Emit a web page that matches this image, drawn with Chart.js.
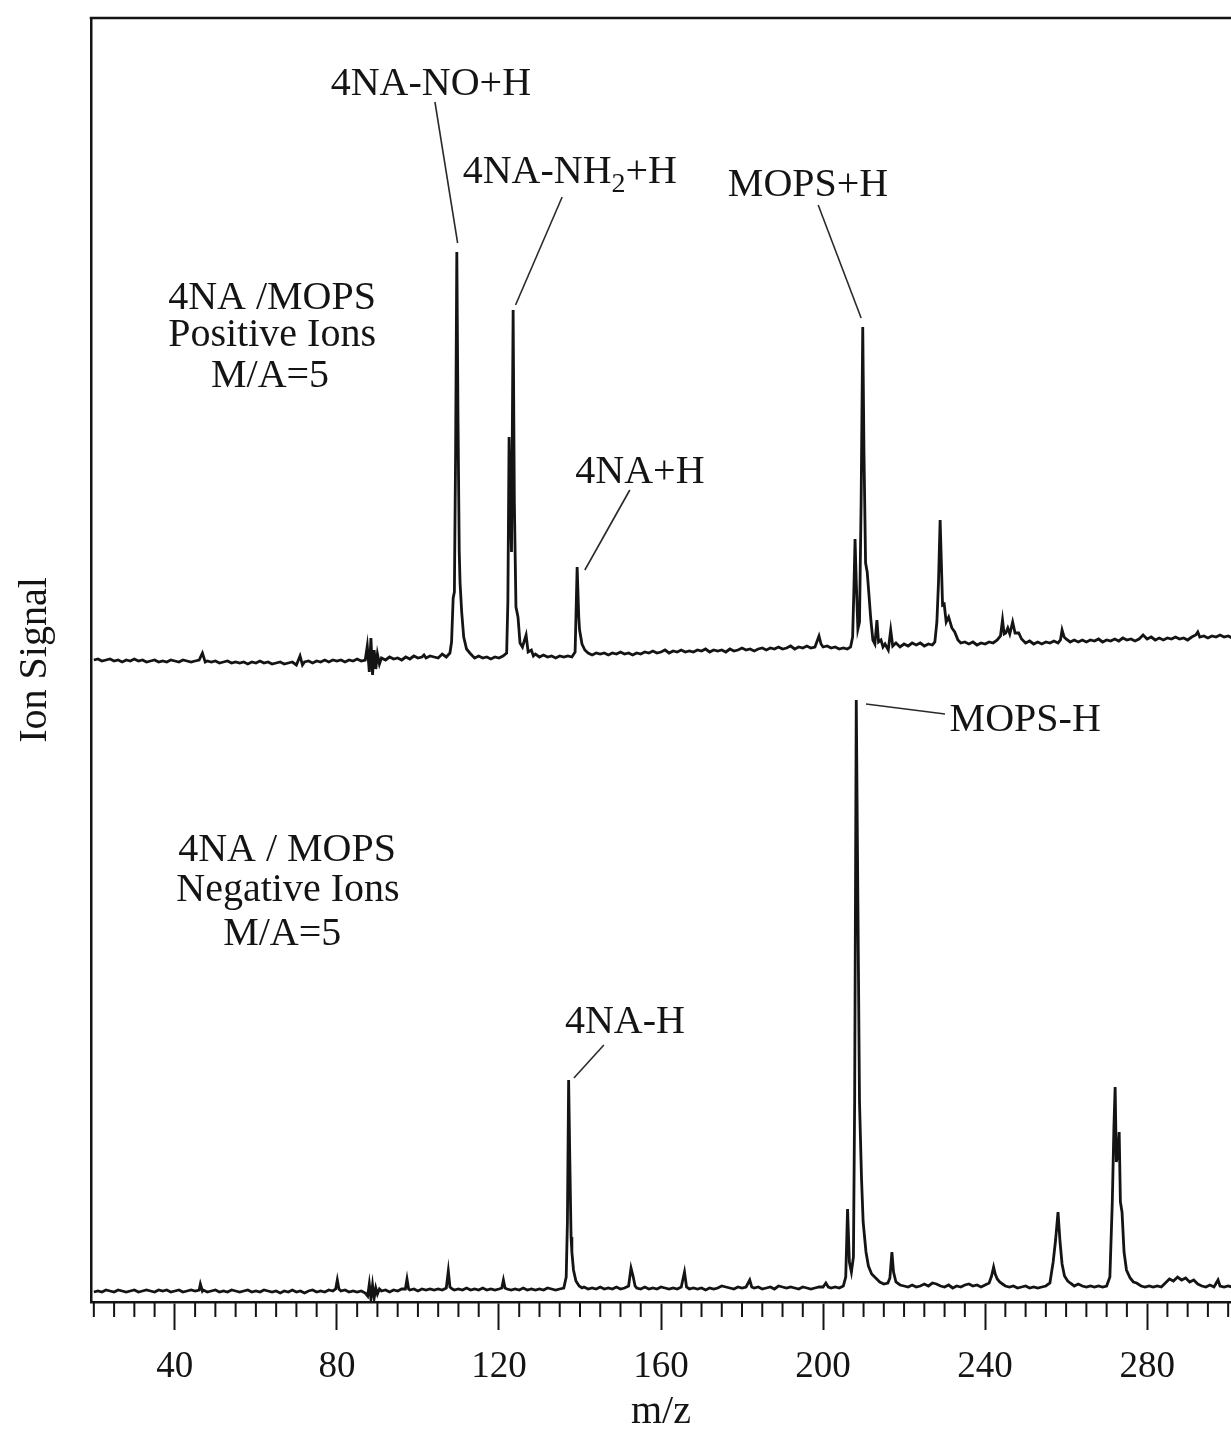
<!DOCTYPE html>
<html>
<head>
<meta charset="utf-8">
<script src="https://cdn.jsdelivr.net/npm/chart.js@4.4.1/dist/chart.umd.min.js"></script>
<style>
  html, body { margin: 0; padding: 0; background: #fff; overflow: hidden; }
  #wrap { width: 1231px; height: 1432px; position: relative; }
</style>
</head>
<body>
<div id="wrap"><canvas id="spectrum"></canvas></div>
<script>
// ---- data (m/z, ion signal in arbitrary units) ----

// positive ions trace (offset upward)
const POS_MZ = [
  20,21,22,23,24,25,26,27,28,29,
  30,31,32,33,34,35,36,37,38,39,
  40,41,42,43,44,45,46,46.8,47.5,48,
  49,50,51,52,53,54,55,56,57,58,
  59,60,61,62,63,64,65,66,67,68,
  69,70,70.9,71.5,72,73,74,75,76,77,
  78,79,80,81,82,83,84,85,86,87,
  87.5,88,88.4,88.8,89.2,89.6,90,90.5,91,92,
  93,94,95,96,97,98,99,100,101,101.5,
  102,103,104,105,106,107,107.9,108.3,108.7,109.0,
  109.3,109.6,109.9,110.2,110.4,110.8,111.3,112,112.8,113.5,
  114,115,116,117,118,119,120,121,121.9,122.2,
  122.5,122.8,123.1,123.5,123.8,124.2,124.7,125.2,125.8,126.7,
  127.2,128,128.5,129,130,131,132,133,134,135,
  136,137,138,138.8,139.3,139.7,139.9,140.5,141.2,142,
  143,144,145,146,147,148,149,150,151,152,
  153,154,155,156,157,158,159,160,161,162,
  163,164,165,166,167,168,169,170,171,172,
  173,174,175,176,177,178,179,180,181,182,
  183,184,185,186,187,188,189,190,191,192,
  193,194,195,196,197,198,199,199.5,200,201,
  202,203,204,205,206,206.8,207.3,207.6,207.9,208.2,
  208.6,209.0,209.4,209.8,210.1,210.5,210.9,211.3,211.8,212.3,
  212.8,213.3,213.7,214.3,214.8,215.3,216.1,216.7,217.2,218,
  219,220,221,222,223,224,225,226,227,227.6,
  228.1,228.5,228.9,229.2,229.5,229.9,230.4,231.0,231.8,232.5,
  233.3,234,235,236,237,238,239,240,241,242,
  243,243.8,244.3,244.7,245.1,245.6,246.1,246.8,247.4,248.3,
  249,250,251,252,253,254,255,256,257,258,
  258.6,259.0,259.5,260,261,262,263,264,265,266,
  267,268,269,270,271,272,273,274,275,276,
  277,278,279,280,281,282,283,284,285,286,
  287,288,289,290,291,292,292.5,293,294,295,
  296,297,298,299,300,301
];
const POS_SIG = [
  64.2,64.3,64.1,64.2,64.3,64.1,64.2,64.0,64.2,64.1,
  64.3,64.1,64.2,64.0,64.1,64.2,64.0,64.1,64.0,64.2,
  64.1,64.0,64.2,64.1,64.0,64.1,64.2,64.9,64.0,64.1,
  64.0,64.1,63.9,64.0,64.1,63.9,64.0,63.9,64.0,63.8,
  64.0,63.9,64.1,63.9,64.0,63.8,63.9,64.0,63.8,63.9,
  64.0,63.7,64.6,63.7,64.0,64.1,63.9,64.1,64.0,64.2,
  64.0,64.2,64.1,64.2,64.0,64.2,64.1,64.3,64.1,64.2,
  65.6,63.0,66.4,62.7,65.2,63.3,64.8,63.8,64.4,64.2,
  64.5,64.3,64.4,64.2,64.5,64.3,64.6,64.4,64.5,64.7,
  64.4,64.6,64.5,64.4,64.8,64.5,64.9,66.0,70.4,71.0,
  85.0,105.0,88.0,75.0,71.9,69.0,66.5,65.3,64.9,64.6,
  64.4,64.6,64.4,64.5,64.3,64.5,64.4,64.6,64.9,70.0,
  86.5,80.0,75.0,99.2,80.0,69.5,68.5,65.9,65.5,66.7,
  65.0,65.2,64.6,64.8,64.5,64.7,64.5,64.6,64.4,64.6,
  64.5,64.6,64.5,65.0,73.5,68.5,67.2,65.8,65.2,64.9,
  64.7,64.9,64.8,64.9,64.7,64.9,64.8,65.0,64.8,64.9,
  64.7,64.9,64.8,65.0,64.9,65.1,64.9,65.0,65.2,64.9,
  65.1,65.0,65.2,65.0,65.1,65.0,65.2,65.1,65.3,65.0,
  65.2,65.1,65.2,65.0,65.3,65.1,65.2,65.4,65.2,65.3,
  65.1,65.3,65.4,65.2,65.4,65.3,65.5,65.3,65.4,65.6,
  65.3,65.5,65.4,65.6,65.4,65.5,66.6,65.8,65.5,65.6,
  65.4,65.5,65.3,65.4,65.3,65.5,66.5,71.0,76.3,72.0,
  67.3,68.0,80.0,97.5,85.0,73.9,73.0,70.9,68.2,66.2,
  65.8,68.2,66.0,66.2,65.5,65.8,65.2,67.2,65.6,65.9,
  65.5,65.8,65.6,65.9,65.7,65.9,65.6,65.8,65.7,66.0,
  68.0,72.0,78.2,74.0,69.7,69.8,68.0,68.5,67.4,67.0,
  66.2,65.9,66.0,65.8,66.0,65.7,65.9,65.8,66.0,65.9,
  66.2,66.6,68.2,66.8,66.9,67.4,66.8,68.0,66.9,66.9,
  66.3,65.9,66.1,65.8,66.0,65.8,66.0,65.9,66.1,65.9,
  66.2,67.2,66.5,66.3,66.0,66.2,66.0,66.2,66.0,66.2,
  66.1,66.3,66.0,66.2,66.1,66.3,66.1,66.4,66.2,66.3,
  66.1,66.3,66.7,66.3,66.5,66.2,66.4,66.2,66.4,66.3,
  66.5,66.3,66.4,66.2,66.5,66.7,67.0,66.5,66.6,66.4,
  66.6,66.5,66.7,66.5,66.6,66.4
];

// negative ions trace
const NEG_MZ = [
  20,21,22,23,24,25,26,27,28,29,
  30,31,32,33,34,35,36,37,38,39,
  40,41,42,43,44,45,46,46.3,46.8,47,
  48,49,50,51,52,53,54,55,56,57,
  58,59,60,61,62,63,64,65,66,67,
  68,69,70,71,72,73,74,75,76,77,
  78,79,79.7,80.1,80.5,81,82,83,84,85,
  86,87,87.6,88,88.4,88.8,89.2,89.6,90,90.5,
  91,92,93,94,95,96,96.9,97.3,97.7,98,
  99,100,101,102,103,104,105,106,107,107.5,
  107.9,108.5,109,110,111,112,113,114,115,116,
  117,118,119,120,120.7,121.1,121.5,122,123,124,
  125,126,127,128,129,130,131,132,133,134,
  135,136,136.6,136.9,137.2,137.5,137.8,138.0,138.4,139,
  139.8,140.5,141,142,143,144,145,146,147,148,
  149,150,151,152,152.6,153.1,153.6,154,155,156,
  157,158,159,160,161,162,163,164,165,165.8,
  166.3,167,168,169,170,171,172,173,174,175,
  176,177,178,179,180,181,181.9,182.4,183,184,
  185,186,187,188,189,190,191,192,193,194,
  195,196,197,198,199,200,200.7,201.3,202,203,
  204,205,205.6,206.05,206.5,207.0,207.5,207.8,208.2,208.6,
  209.0,209.5,209.9,210.2,210.6,211.2,212,213,214,215,
  216,216.5,217.0,217.4,218,219,220,221,222,223,
  224,225,226,227,228,229,230,231,232,233,
  234,235,236,237,238,239,240,241,241.6,242.1,
  242.5,243,243.6,244.3,245,246,247,248,249,250,
  251,252,253,254,255,256,256.8,257.4,258.0,258.5,
  259.0,259.6,260.4,261,262,263,264,265,266,267,
  268,269,270,270.8,271.4,271.8,272.1,272.4,272.8,273.1,
  273.4,273.8,274.3,274.9,275.8,276.6,277.4,278.5,279.5,280.5,
  281.5,282.5,283.5,284.5,285.5,286.5,287.5,288.5,289.5,290.5,
  291.5,292.5,293.5,294.5,295.5,296.5,297.5,298,299,300,
  301
];
const NEG_SIG = [
  1.0,1.1,1.0,1.2,1.1,1.0,1.2,1.1,1.0,1.1,
  1.2,1.0,1.1,1.2,1.1,1.0,1.2,1.1,1.2,1.0,
  1.1,1.2,1.0,1.1,1.2,1.1,1.2,1.8,1.1,1.2,
  1.0,1.1,1.2,1.0,1.1,1.0,1.2,1.1,1.0,1.1,
  1.2,1.0,1.1,1.0,1.2,1.1,1.0,1.1,0.9,1.1,
  1.0,1.2,1.0,1.1,0.9,1.1,1.2,1.0,1.1,1.0,
  1.2,1.1,1.3,2.2,1.3,1.1,1.2,1.0,1.1,1.0,
  1.1,0.9,0.6,1.8,0.3,1.7,0.4,1.4,0.8,1.3,
  1.1,1.2,1.0,1.2,1.1,1.3,1.3,2.3,1.3,1.2,
  1.3,1.1,1.3,1.2,1.3,1.2,1.3,1.2,1.4,3.1,
  1.5,1.3,1.2,1.3,1.2,1.4,1.2,1.3,1.2,1.4,
  1.2,1.3,1.2,1.3,1.4,2.2,1.4,1.3,1.2,1.3,
  1.2,1.4,1.2,1.3,1.2,1.3,1.2,1.4,1.3,1.2,
  1.3,1.4,2.5,8.0,22.2,14.0,6.5,5.0,3.2,2.1,
  1.6,1.4,1.5,1.3,1.4,1.3,1.5,1.3,1.4,1.3,
  1.5,1.3,1.4,1.6,3.4,2.6,1.6,1.4,1.3,1.5,
  1.3,1.4,1.3,1.5,1.4,1.3,1.4,1.3,1.5,3.0,
  1.5,1.3,1.4,1.3,1.4,1.2,1.4,1.3,1.4,1.6,
  1.5,1.4,1.3,1.5,1.4,1.5,2.2,1.5,1.4,1.5,
  1.3,1.4,1.5,1.3,1.6,1.5,1.4,1.5,1.4,1.3,
  1.5,1.4,1.3,1.4,1.5,1.5,1.9,1.5,1.4,1.5,
  1.4,1.6,2.5,9.3,4.0,3.0,4.5,20.0,60.2,40.0,
  20.0,12.3,8.0,6.7,5.0,3.6,2.8,2.4,2.0,1.8,
  1.9,2.4,5.0,3.0,2.0,1.7,1.6,1.5,1.7,1.5,
  1.6,1.8,1.6,1.9,1.8,1.6,1.5,1.7,1.4,1.6,
  1.5,1.7,1.8,1.6,1.7,1.5,1.7,1.9,2.6,3.5,
  2.8,2.3,2.0,1.8,1.6,1.5,1.6,1.4,1.5,1.6,
  1.4,1.5,1.4,1.5,1.6,1.9,4.0,6.2,9.0,6.0,
  3.8,2.6,2.1,1.9,1.6,1.8,1.6,1.5,1.6,1.5,
  1.6,1.5,1.6,2.5,10.0,17.5,21.5,14.0,15.0,17.0,
  10.0,9.0,5.0,3.2,2.4,2.0,1.9,1.6,1.5,1.6,
  1.5,1.6,1.5,1.9,2.3,2.1,2.5,2.2,2.4,2.0,
  2.2,1.8,1.6,1.5,1.7,1.5,2.2,1.6,1.5,1.6,
  1.5
];

const X_LABELS = [40, 80, 120, 160, 200, 240, 280];

// ---- look ----
const SERIF = '"Liberation Serif", "DejaVu Serif", serif';
const INK = '#141414';

// peak labels, placed in data coordinates
const notes = [
  { parts: [['4NA-NO+H']], mz: 103.2, sig: 122.0 },
  { parts: [['4NA-NH'], ['2', true], ['+H']], mz: 137.5, sig: 113.2 },
  { parts: [['MOPS+H']], mz: 196.3, sig: 111.9 },
  { parts: [['4NA /MOPS']], mz: 64.0, sig: 100.6 },
  { parts: [['Positive Ions']], mz: 64.0, sig: 96.9 },
  { parts: [['M/A=5']], mz: 63.5, sig: 92.8 },
  { parts: [['4NA+H']], mz: 154.8, sig: 83.2 },
  { parts: [['MOPS-H']], mz: 249.9, sig: 58.4 },
  { parts: [['4NA / MOPS']], mz: 67.7, sig: 45.4 },
  { parts: [['Negative Ions']], mz: 67.9, sig: 41.4 },
  { parts: [['M/A=5']], mz: 66.5, sig: 37.0 },
  { parts: [['4NA-H']], mz: 151.1, sig: 28.2 }
];
const leaders = [
  [104.2, 120.0, 109.8, 105.9],
  [135.6, 110.5, 124.1, 99.7],
  [198.8, 109.7, 209.4, 98.4],
  [152.3, 81.2, 141.2, 73.2],
  [210.6, 59.8, 230.1, 58.8],
  [145.9, 25.7, 138.5, 22.4]
];

const decorations = {
  id: 'decorations',
  afterDraw(chart) {
    const { ctx, chartArea: a, scales: { x, y } } = chart;
    ctx.save();
    ctx.strokeStyle = INK;
    ctx.lineCap = 'butt';

    // top edge of the frame (right edge is cut off in the figure)
    ctx.lineWidth = 2.5;
    ctx.beginPath();
    ctx.moveTo(a.left - 1.25, a.top);
    ctx.lineTo(a.right, a.top);
    ctx.stroke();

    // minor ticks every 5 m/z
    ctx.lineWidth = 2;
    x.ticks.forEach(t => {
      if (t.value % 40 === 0) return;
      const px = x.getPixelForValue(t.value);
      ctx.beginPath();
      ctx.moveTo(px, a.bottom);
      ctx.lineTo(px, a.bottom + 15);
      ctx.stroke();
    });

    // leader lines
    ctx.lineWidth = 1.6;
    ctx.strokeStyle = '#2a2a2a';
    leaders.forEach(([m1, s1, m2, s2]) => {
      ctx.beginPath();
      ctx.moveTo(x.getPixelForValue(m1), y.getPixelForValue(s1));
      ctx.lineTo(x.getPixelForValue(m2), y.getPixelForValue(s2));
      ctx.stroke();
    });

    // labels
    ctx.fillStyle = INK;
    ctx.textBaseline = 'alphabetic';
    const big = '40px ' + SERIF, small = '28px ' + SERIF;
    notes.forEach(n => {
      let w = 0;
      n.parts.forEach(([txt, sub]) => {
        ctx.font = sub ? small : big;
        w += ctx.measureText(txt).width;
      });
      let px = x.getPixelForValue(n.mz) - w / 2;
      const base = y.getPixelForValue(n.sig) + 13;
      n.parts.forEach(([txt, sub]) => {
        ctx.font = sub ? small : big;
        ctx.fillText(txt, px, sub ? base + 9 : base);
        px += ctx.measureText(txt).width;
      });
    });
    ctx.restore();
  }
};

const toPoints = (mz, sig) => mz.slice(0, Math.min(mz.length, sig.length)).map((m, i) => ({ x: m, y: sig[i] }));

new Chart(document.getElementById('spectrum'), {
  type: 'line',
  data: {
    datasets: [
      { label: 'Positive Ions', data: toPoints(POS_MZ, POS_SIG) },
      { label: 'Negative Ions', data: toPoints(NEG_MZ, NEG_SIG) }
    ]
  },
  options: {
    responsive: true,
    maintainAspectRatio: false,
    animation: false,
    layout: { padding: { top: 18, left: 0, right: 0, bottom: 0 } },
    elements: {
      line: { borderColor: INK, borderWidth: 2.8, tension: 0, fill: false },
      point: { radius: 0, hoverRadius: 0 }
    },
    plugins: { legend: { display: false }, tooltip: { enabled: false } },
    scales: {
      x: {
        type: 'linear',
        min: 19.3,
        max: 300.7,
        afterFit: s => { s.height = 130; s.paddingLeft = 0; s.paddingRight = 0; },
        border: { display: true, color: INK, width: 2.5 },
        grid: {
          display: true,
          drawOnChartArea: false,
          drawTicks: true,
          tickLength: 28,
          tickWidth: 2,
          tickColor: c => (c.tick && c.tick.value % 40 === 0) ? INK : 'rgba(0,0,0,0)'
        },
        ticks: {
          stepSize: 5,
          includeBounds: false,
          autoSkip: false,
          maxRotation: 0,
          minRotation: 0,
          padding: 15,
          color: INK,
          font: { family: SERIF, size: 37 },
          callback: v => X_LABELS.includes(v) ? String(v) : ''
        },
        title: {
          display: true,
          text: 'm/z',
          color: INK,
          padding: { top: 0, bottom: 0 },
          font: { family: SERIF, size: 40, lineHeight: 1 }
        }
      },
      y: {
        min: 0,
        max: 128.4,
        afterFit: s => { s.width = 91; },
        border: { display: true, color: INK, width: 2.5 },
        grid: { display: false },
        ticks: { display: false },
        title: {
          display: true,
          text: 'Ion Signal',
          color: INK,
          padding: { top: 15, bottom: 0 },
          font: { family: SERIF, size: 40, lineHeight: 1 }
        }
      }
    }
  },
  plugins: [decorations]
});
</script>
</body>
</html>
